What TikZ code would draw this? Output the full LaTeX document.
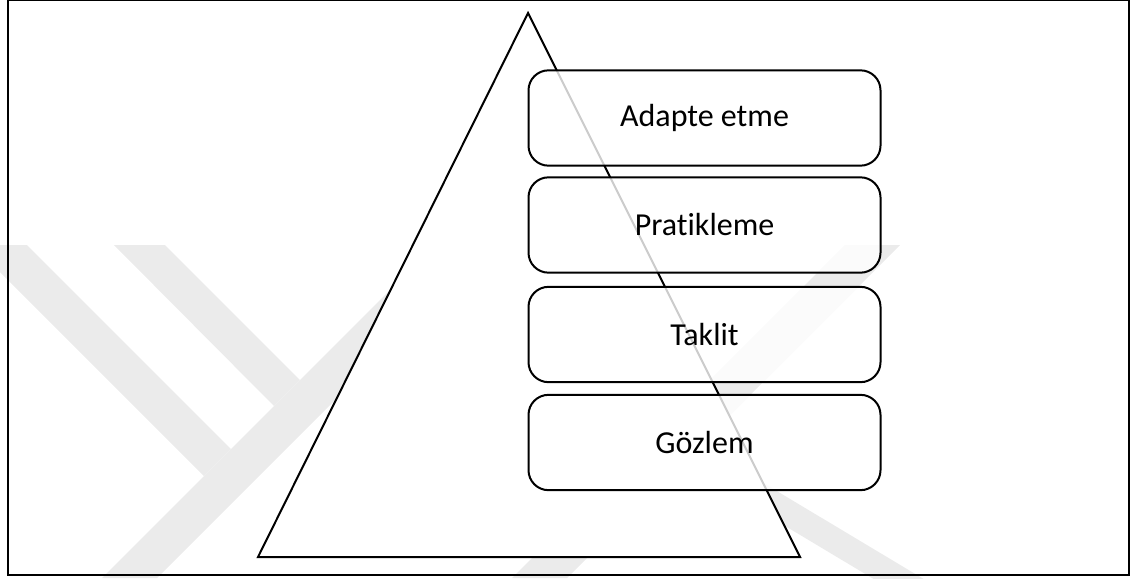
\documentclass[tikz,border=0pt]{standalone}
\usepackage{fontspec}
\setmainfont{Carlito}[Ligatures=NoCommon]
\begin{document}
\begin{tikzpicture}[x=0.75pt,y=-0.75pt,
  wmark/.style={fill=black!8, draw=none},
  outline/.style={draw=black, line width=1.5pt},
  levelbox/.style={outline, rounded corners=15pt, fill=white, fill opacity=0.8,
    text opacity=1, minimum width=264pt, minimum height=71.5pt, inner sep=0pt,
    font=\fontsize{24}{28}\selectfont}]
\useasboundingbox (0,0) rectangle (1137,578);

% faint background emblem
\fill[wmark] (0,245) -- (27,245) -- (231,449) -- (204,476) -- (0,272) -- cycle;
\fill[wmark] (114,245) -- (165,245) -- (300,380) -- (274,406) -- cycle;
\fill[wmark] (102,578) -- (157,578) -- (490,245) -- (435,245) -- cycle;
\fill[wmark] (512,578) -- (567,578) -- (900,245) -- (845,245) -- cycle;
\fill[wmark] (700,445) -- (942,590) -- (892,590) -- (700,475) -- cycle;

% outer frame
\draw[outline] (8,0) rectangle (1129,575);

% pyramid
\coordinate (apex) at (528,13);
\coordinate (bl) at (258,557);
\coordinate (br) at (800,557);
\draw[outline, fill=white] (apex) -- (br) -- (bl) -- cycle;

% levels
\node[levelbox] (adapt) at (704.5,118) {Adapte etme};
\node[levelbox] (pratik) at (704.5,225) {Pratikleme};
\node[levelbox] (taklit) at (704.5,334.5) {Taklit};
\node[levelbox] (gozlem) at (704.5,442.5) {Gözlem};
\end{tikzpicture}
\end{document}
